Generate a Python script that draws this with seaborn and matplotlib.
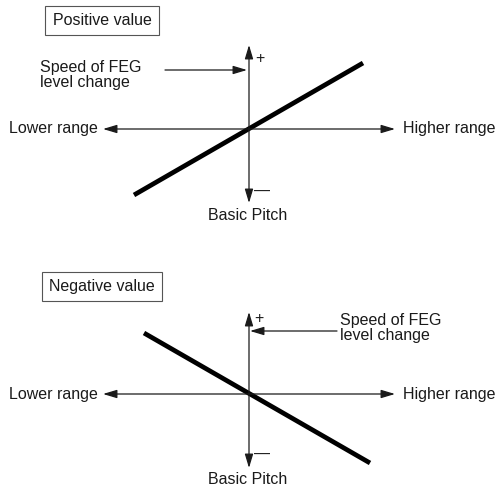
import numpy as np
import matplotlib.pyplot as plt
import pandas as pd
import seaborn as sns

# response curves (diagram units, origin = Basic Pitch / no change)
pos_x = [-115, 114]
pos_y = [-66, 66]
neg_x = [-105, 121]
neg_y = [61, -69]

titles = ["Positive value", "Negative value"]
x_labels = ["Lower range", "Higher range"]
y_labels = ["+", "—"]
center_label = "Basic Pitch"
speed_label = "Speed of FEG\nlevel change"

sns.set_style("white")
plt.rcParams['font.family'] = ['Liberation Sans', 'DejaVu Sans']

ink = "#1a1a1a"
fs = 11.5
W, H = 496, 486

fig = plt.figure(figsize=(W / 100, H / 100), dpi=100)

# each panel: figure half, 1 data unit = 1 pixel, origin at the axes cross
panels = [
    dict(rect=[0, 0.5, 1, 0.5], ylim=(-114, 129), x=pos_x, y=pos_y,
         vtop=84, vbot=-74, plus=(11, 71), minus=(13, -62), pitch=-86,
         box=(-147, 108.5), speed_txt=(-209, 54),
         speed_arrow=((-84, 59), (-2, 59))),
    dict(rect=[0, 0, 1, 0.5], ylim=(-92, 151), x=neg_x, y=neg_y,
         vtop=82, vbot=-74, plus=(10, 75), minus=(13, -60), pitch=-85,
         box=(-147, 107.5), speed_txt=(91, 66),
         speed_arrow=((88, 63), (1, 63))),
]

arrow = dict(arrowstyle="-|>,head_length=0.6,head_width=0.18",
             color=ink, lw=0.9, shrinkA=0, shrinkB=0, mutation_scale=14)
darrow = dict(arrow, arrowstyle="<|-|>,head_length=0.6,head_width=0.18")

for i, p in enumerate(panels):
    ax = fig.add_axes(p["rect"])
    ax.set_xlim(-249, 247)
    ax.set_ylim(*p["ylim"])
    ax.set_axis_off()

    # axes cross
    ax.annotate("", xy=(146, 0), xytext=(-146, 0), arrowprops=darrow)
    ax.annotate("", xy=(0, p["vtop"]), xytext=(0, p["vbot"]), arrowprops=darrow)

    df = pd.DataFrame({"x": p["x"], "y": p["y"]})
    sns.lineplot(data=df, x="x", y="y", ax=ax, color="black", lw=3.4,
                 solid_capstyle="butt")

    ax.text(-151, 0, x_labels[0], ha="right", va="center", fontsize=fs, color=ink)
    ax.text(154, 0, x_labels[1], ha="left", va="center", fontsize=fs, color=ink)
    ax.text(*p["plus"], y_labels[0], ha="center", va="center", fontsize=fs, color=ink)
    ax.text(*p["minus"], y_labels[1], ha="center", va="center", fontsize=fs, color=ink)
    ax.text(-1, p["pitch"], center_label, ha="center", va="center", fontsize=fs, color=ink)

    ax.text(*p["box"], titles[i], ha="center", va="center", fontsize=fs, color=ink,
            bbox=dict(boxstyle="square,pad=0.45", fc="white", ec="#555555", lw=0.8))

    ax.text(*p["speed_txt"], speed_label, ha="left", va="center", fontsize=fs,
            color=ink, linespacing=1.0)
    a0, a1 = p["speed_arrow"]
    ax.annotate("", xy=a1, xytext=a0, arrowprops=arrow)

fig.savefig("out.png", dpi=100)
